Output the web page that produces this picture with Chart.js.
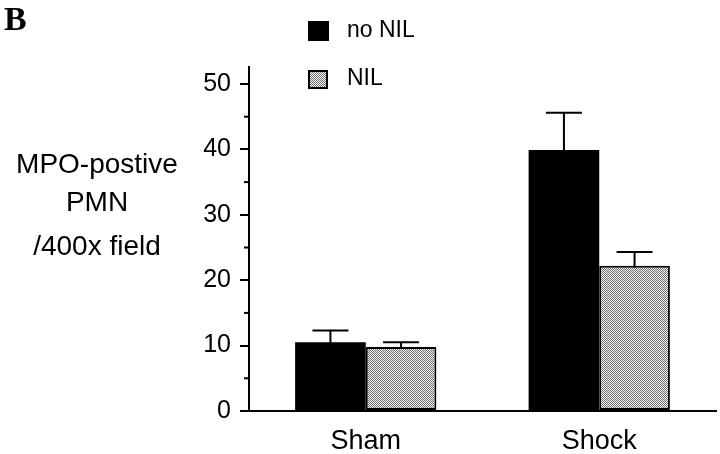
<!DOCTYPE html>
<html>
<head>
<meta charset="utf-8">
<script src="https://cdn.jsdelivr.net/npm/chart.js@4.4.1/dist/chart.umd.min.js"></script>
<style>
  html, body { margin: 0; padding: 0; background: #fff; }
  #wrap { width: 720px; height: 454px; position: relative; }
</style>
</head>
<body>
<div id="wrap"><canvas id="c"></canvas></div>
<script>
const categories = ['Sham', 'Shock'];
const seriesNames = ['no NIL', 'NIL'];
const noNilValues = [10.5, 39.9];
const noNilErrors = [1.8, 5.7];
const nilValues = [9.8, 22.2];
const nilErrors = [0.7, 2.1];
const minorTickValues = [5, 15, 25, 35, 45];
const yTitleLines = ['MPO-postive', 'PMN', '/400x field'];
const panelLabel = 'B';

const FONT = '"Liberation Sans", Arial, Helvetica, sans-serif';

function makePattern() {
  const p = document.createElement('canvas');
  p.width = 2; p.height = 2;
  const g = p.getContext('2d');
  g.fillStyle = '#f4f4f4'; g.fillRect(0, 0, 2, 2);
  g.fillStyle = '#707070';
  g.fillRect(0, 0, 1, 1);
  g.fillRect(1, 1, 1, 1);
  return document.getElementById('c').getContext('2d').createPattern(p, 'repeat');
}
const nilPattern = makePattern();

const errorBars = {
  id: 'errorBars',
  afterDatasetsDraw(chart) {
    const ctx = chart.ctx;
    const y = chart.scales.y;
    const errs = [noNilErrors, nilErrors];
    const vals = [noNilValues, nilValues];
    ctx.save();
    ctx.strokeStyle = '#000';
    ctx.lineWidth = 2;
    chart.data.datasets.forEach((ds, di) => {
      const meta = chart.getDatasetMeta(di);
      meta.data.forEach((el, i) => {
        const top = y.getPixelForValue(vals[di][i] + errs[di][i]);
        const base = y.getPixelForValue(vals[di][i]) + 2;
        ctx.beginPath();
        ctx.moveTo(el.x, base);
        ctx.lineTo(el.x, top);
        ctx.moveTo(el.x - 18, top);
        ctx.lineTo(el.x + 18, top);
        ctx.stroke();
      });
    });
    ctx.restore();
  }
};

const decorations = {
  id: 'decorations',
  afterDraw(chart) {
    const ctx = chart.ctx;
    const y = chart.scales.y;
    const left = chart.chartArea.left;
    ctx.save();
    // minor ticks
    ctx.strokeStyle = '#000';
    ctx.lineWidth = 2;
    minorTickValues.forEach(v => {
      const py = y.getPixelForValue(v);
      ctx.beginPath();
      ctx.moveTo(left - 5, py);
      ctx.lineTo(left, py);
      ctx.stroke();
    });
    // y title
    ctx.fillStyle = '#000';
    ctx.textAlign = 'center';
    ctx.textBaseline = 'middle';
    ctx.font = '28px ' + FONT;
    const ys = [165, 203, 247];
    yTitleLines.forEach((t, i) => ctx.fillText(t, 97, ys[i]));
    // panel label
    ctx.font = 'bold 34px "Liberation Serif", "Times New Roman", serif';
    ctx.textAlign = 'left';
    ctx.textBaseline = 'alphabetic';
    ctx.fillText(panelLabel, 4, 30);
    // legend
    ctx.fillStyle = '#000';
    ctx.fillRect(308, 21, 21, 20);
    ctx.fillStyle = nilPattern;
    ctx.fillRect(309, 71, 18, 17);
    ctx.strokeStyle = '#000';
    ctx.lineWidth = 2;
    ctx.strokeRect(309, 71, 18, 17);
    ctx.fillStyle = '#000';
    ctx.font = '23px ' + FONT;
    ctx.textBaseline = 'middle';
    ctx.fillText(seriesNames[0], 347, 31);
    ctx.fillText(seriesNames[1], 347, 79);
    ctx.restore();
  }
};

new Chart(document.getElementById('c'), {
  type: 'bar',
  data: {
    labels: categories,
    datasets: [
      { label: seriesNames[0], data: noNilValues, backgroundColor: '#000', borderWidth: 0,
        categoryPercentage: 0.605, barPercentage: 1.0 },
      { label: seriesNames[1], data: nilValues, backgroundColor: nilPattern, borderColor: '#000', borderWidth: 2,
        borderSkipped: false, categoryPercentage: 0.605, barPercentage: 1.0 }
    ]
  },
  options: {
    responsive: true,
    maintainAspectRatio: false,
    animation: false,
    events: [],
    layout: { padding: { left: 189, top: 67, right: 4, bottom: 0 } },
    plugins: { legend: { display: false }, tooltip: { enabled: false }, title: { display: false } },
    scales: {
      x: {
        grid: { display: false, drawTicks: false },
        border: { display: true, color: '#000', width: 2 },
        ticks: { color: '#000', font: { family: FONT, size: 27 }, padding: 14 },
        afterFit(s) { s.height = 43; }
      },
      y: {
        min: 0, max: 52.6,
        grid: { drawOnChartArea: false, drawTicks: true, tickLength: 9, color: '#000', lineWidth: 2 },
        border: { display: true, color: '#000', width: 2 },
        ticks: { stepSize: 10, includeBounds: false, color: '#000', font: { family: FONT, size: 25 }, padding: 9 },
        afterFit(s) { s.width = 60; }
      }
    }
  },
  plugins: [errorBars, decorations]
});
</script>
</body>
</html>
